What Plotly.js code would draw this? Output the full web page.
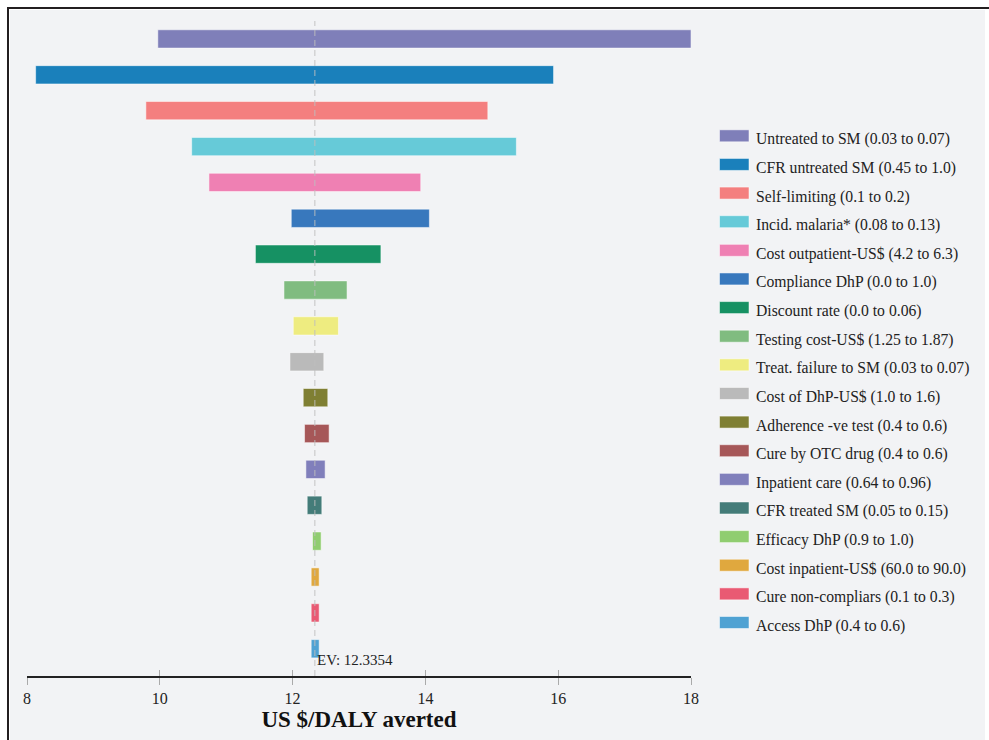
<!DOCTYPE html>
<html>
<head>
<meta charset="utf-8">
<script src="https://cdn.plot.ly/plotly-3.0.1.min.js"></script>
<style>
  html, body { margin: 0; padding: 0; background: #ffffff; width: 989px; height: 740px; overflow: hidden; }
  #frame { position: absolute; left: 7px; top: 7px; width: 982px; height: 733px;
           border-top: 2px solid #231f20; border-left: 2px solid #231f20; box-sizing: border-box; }
  #chart { position: absolute; left: 10px; top: 10px; width: 975px; height: 730px; }
</style>
</head>
<body>
<div id="frame"></div>
<div id="chart"></div>
<script>
// ---- Data ----
const params = [
  "Untreated to SM (0.03 to 0.07)",
  "CFR untreated SM (0.45 to 1.0)",
  "Self-limiting (0.1 to 0.2)",
  "Incid. malaria* (0.08 to 0.13)",
  "Cost outpatient-US$ (4.2 to 6.3)",
  "Compliance DhP (0.0 to 1.0)",
  "Discount rate (0.0 to 0.06)",
  "Testing cost-US$ (1.25 to 1.87)",
  "Treat. failure to SM (0.03 to 0.07)",
  "Cost of DhP-US$ (1.0 to 1.6)",
  "Adherence -ve test (0.4 to 0.6)",
  "Cure by OTC drug (0.4 to 0.6)",
  "Inpatient care (0.64 to 0.96)",
  "CFR treated SM (0.05 to 0.15)",
  "Efficacy DhP (0.9 to 1.0)",
  "Cost inpatient-US$ (60.0 to 90.0)",
  "Cure non-compliars (0.1 to 0.3)",
  "Access DhP (0.4 to 0.6)"
];
const lowValues  = [9.97, 8.13, 9.79, 10.48, 10.74, 11.98, 11.44, 11.87, 12.01, 11.96, 12.16, 12.18, 12.20, 12.22, 12.30, 12.28, 12.28, 12.28];
const highValues = [18.0, 15.93, 14.94, 15.37, 13.93, 14.06, 13.33, 12.82, 12.69, 12.47, 12.53, 12.55, 12.49, 12.44, 12.43, 12.40, 12.40, 12.40];
const barColors = [
  "#7f7fb9", "#1a80bb", "#f47f7f", "#66cad8", "#ef80b3", "#3878bd",
  "#169163", "#80bc80", "#eeec80", "#bababa", "#7f7f33", "#a65758",
  "#807fbb", "#447c79", "#90cd70", "#e0a83e", "#e95a73", "#4fa2d3"
];
const expectedValue = 12.3354;
const xTickVals = [8, 10, 12, 14, 16, 18];
const xTitle = "US $/DALY averted";

// ---- Layout helpers (pixel -> paper) ----
const PLOT_L = 17, PLOT_W = 664, PLOT_T = 10.5, PLOT_H = 655.5; // within the chart div
const OFF = 10; // chart div offset on page
function xp(px) { return (px - OFF - PLOT_L) / PLOT_W; }
function yp(py) { return (PLOT_T + PLOT_H - (py - OFF)) / PLOT_H; }

const serif = '"Liberation Serif", "Times New Roman", Times, serif';

const trace = {
  type: 'bar',
  orientation: 'h',
  y: params,
  base: lowValues,
  x: highValues.map((h, i) => h - lowValues[i]),
  width: 0.51,
  marker: { color: barColors, line: { color: 'rgba(255,255,255,0.5)', width: 1 } },
  hoverinfo: 'skip',
  showlegend: false
};

const shapes = [{
  type: 'line', xref: 'x', yref: 'paper', x0: expectedValue, x1: expectedValue, y0: 0, y1: 1,
  line: { color: 'rgba(190,190,190,0.9)', width: 1, dash: '6px,4px' }, layer: 'above'
}];
const annotations = [{
  xref: 'x', yref: 'paper', x: expectedValue, y: yp(660), xanchor: 'left', yanchor: 'middle',
  text: 'EV: ' + expectedValue.toFixed(4), showarrow: false,
  font: { family: serif, size: 15, color: '#222' }
}];

params.forEach((p, i) => {
  const cy = 135.4 + i * 28.65;
  shapes.push({
    type: 'rect', xref: 'paper', yref: 'paper',
    x0: xp(719.5), x1: xp(749), y0: yp(cy + 6), y1: yp(cy - 6),
    fillcolor: barColors[i], line: { color: 'rgba(255,255,255,0.5)', width: 1 }
  });
  annotations.push({
    xref: 'paper', yref: 'paper', x: xp(754), y: yp(cy + 3.5),
    xanchor: 'left', yanchor: 'middle', text: p, showarrow: false,
    font: { family: serif, size: 15.7, color: '#222' }
  });
});

const layout = {
  width: 975, height: 730,
  margin: { l: PLOT_L, r: 975 - PLOT_L - PLOT_W, t: PLOT_T, b: 730 - PLOT_T - PLOT_H, pad: 0 },
  paper_bgcolor: '#f2f3f5', plot_bgcolor: '#f2f3f5',
  showlegend: false,
  font: { family: serif, color: '#222' },
  xaxis: {
    range: [8, 18], tickvals: xTickVals, ticktext: xTickVals.map(String),
    showgrid: false, zeroline: false,
    showline: true, linecolor: '#222', linewidth: 1.5,
    ticks: 'outside', ticklen: 7, tickwidth: 1, tickcolor: '#aaaaaa',
    tickfont: { family: serif, size: 16, color: '#222' },
    title: { text: xTitle, font: { family: serif, size: 23, color: '#111', weight: 'bold' }, standoff: 4 },
    automargin: false, fixedrange: true
  },
  xaxis2: {
    overlaying: 'x', anchor: 'y', side: 'bottom', matches: 'x',
    range: [8, 18], tickvals: xTickVals, showticklabels: false,
    showgrid: false, zeroline: false, showline: false,
    ticks: 'inside', ticklen: 6, tickwidth: 1, tickcolor: '#aaaaaa'
  },
  yaxis: {
    type: 'category', range: [17.76, -0.5],
    showticklabels: false, showgrid: false, zeroline: false, showline: false, ticks: '',
    fixedrange: true
  },
  bargap: 0,
  shapes: shapes,
  annotations: annotations
};

Plotly.newPlot('chart', [trace, { type: 'scatter', x: [], y: [], xaxis: 'x2', yaxis: 'y', showlegend: false, hoverinfo: 'skip' }], layout, { staticPlot: true });
</script>
</body>
</html>
